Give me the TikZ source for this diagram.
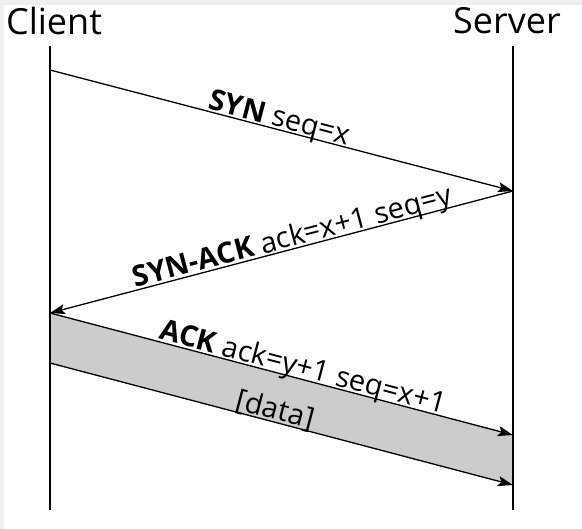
\documentclass[tikz,border=0pt]{standalone}
\usepackage{fontspec}
\setmainfont{Open Sans}
\usetikzlibrary{arrows.meta}
\definecolor{framegray}{RGB}{240,240,240}
\definecolor{bandgray}{RGB}{204,204,204}
\begin{document}
\begin{tikzpicture}[x=1pt,y=-1pt,
  lifeline/.style={line width=1.2pt},
  msg/.style={line width=1.3pt,-{Stealth[length=15pt,width=10pt,inset=3pt]}},
  msglabel/.style={font=\fontsize{29}{34}\selectfont, sloped, above, inner sep=2pt, text depth=0pt},
  actor/.style={font=\fontsize{36}{42}\selectfont, inner sep=0pt}]
\useasboundingbox (0,0) rectangle (582,529);
\fill[framegray] (0,0) rectangle (582,529);
\fill[white] (4,5) rectangle (582,529);
% actors
\node[actor] (client) at (54,21) {Client};
\node[actor] (server) at (507,21) {Server};
% lifeline ends
\coordinate (ctop) at (50,46);
\coordinate (cbot) at (50,510);
\coordinate (stop) at (513,46);
\coordinate (sbot) at (513,510);
% message points
\coordinate (c1) at (50,70);
\coordinate (s1) at (513,191);
\coordinate (c2) at (50,313);
\coordinate (s2) at (513,435);
\coordinate (c3) at (50,363);
\coordinate (s3) at (513,485);
% data band
\fill[bandgray] (c2) -- (s2) -- (s3) -- (c3) -- cycle;
\draw[lifeline] (ctop) -- (cbot);
\draw[lifeline] (stop) -- (sbot);
\draw[msg] (c1) -- node[msglabel, pos=0.49] {\textbf{SYN} seq=x} (s1);
\draw[msg] (s1) -- node[msglabel, pos=0.47] {\textbf{SYN-ACK} ack=x+1 seq=y} (c2);
\draw[msg] (c2) -- node[msglabel, pos=0.54] {\textbf{ACK} ack=y+1 seq=x+1} (s2);
\draw[msg] (c3) -- node[msglabel, pos=0.48] {[data]} (s3);
\end{tikzpicture}
\end{document}
